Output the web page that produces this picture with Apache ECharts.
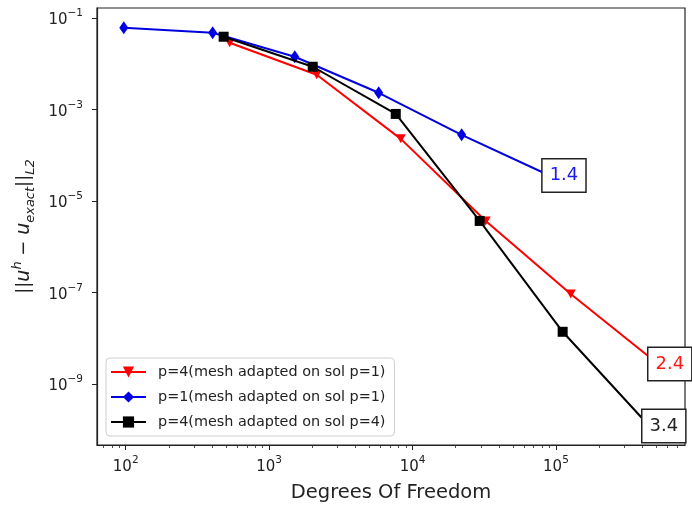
<!DOCTYPE html>
<html>
<head>
<meta charset="utf-8">
<script src="https://cdn.jsdelivr.net/npm/echarts@6/dist/echarts.min.js"></script>
<style>
  html, body { margin: 0; padding: 0; background: #fff; }
  #chart { width: 692px; height: 506px; }
</style>
</head>
<body>
<div id="chart"></div>
<script>
// Convergence of the L2 error against degrees of freedom (log-log)
const seriesNames = [
  'p=4(mesh adapted on sol p=1)',
  'p=1(mesh adapted on sol p=1)',
  'p=4(mesh adapted on sol p=4)'
];
const dofP4onP1 = [531, 2148, 8280, 32400, 126800, 547000];
const errP4onP1 = [0.0288, 0.00574, 2.28e-4, 3.66e-6, 9.27e-8, 2.34e-9];
const dofP1onP1 = [97, 404, 1510, 5810, 22000, 100000];
const errP1onP1 = [0.0614, 0.0477, 0.0142, 0.00232, 2.79e-4, 3.1e-5];
const dofP4onP4 = [482, 2014, 7640, 29400, 111400, 489000];
const errP4onP4 = [0.039, 0.0086, 8.0e-4, 3.66e-6, 1.38e-8, 8.9e-11];
const rateLabels = ['2.4', '1.4', '3.4'];
const xMajorTicks = [100, 1000, 10000, 100000];
const yMajorTicks = [1e-9, 1e-7, 1e-5, 1e-3, 1e-1];
const xRange = [63.1, 794000];
const yRange = [4.62e-11, 0.1656];

const FONT = 'DejaVu Sans';
const INK = '#222';

// minor ticks at 2..9 times each decade inside the x range
const xMinorTicks = [];
for (let e = 1; e <= 5; e++) {
  for (let k = 2; k <= 9; k++) {
    const v = k * Math.pow(10, e);
    if (v > xRange[0] && v < xRange[1]) xMinorTicks.push(v);
  }
}

function powLabel(v) {
  const e = Math.round(Math.log10(v));
  const exp = e < 0 ? '\u2212' + (-e) : String(e);
  return '{b|10}{s|' + exp + '}';
}
const tickRich = {
  b: { fontFamily: FONT, fontSize: 15, color: INK, lineHeight: 20, verticalAlign: 'bottom' },
  s: { fontFamily: FONT, fontSize: 10.5, color: INK, lineHeight: 12, verticalAlign: 'top' }
};

// the final point of each run carries its convergence-rate box instead of a marker
function buildData(xs, ys, rate, color, offset) {
  return xs.map((x, i) => {
    const item = { value: [x, ys[i]] };
    if (i === xs.length - 1) {
      item.symbolSize = 0.01;
      item.label = {
        show: true,
        position: 'inside',
        offset: offset,
        formatter: rate,
        fontFamily: FONT,
        fontSize: 18,
        lineHeight: 19,
        color: color,
        backgroundColor: '#fff',
        borderColor: INK,
        borderWidth: 1.5,
        padding: [7, 7, 6, 7]
      };
    }
    return item;
  });
}

const colors = ['#ff0000', '#0000e0', '#000000'];
const labelColors = ['#ff1a1a', '#1a1aee', '#222'];

const chart = echarts.init(document.getElementById('chart'));
chart.setOption({
  animation: false,
  backgroundColor: '#fff',
  grid: {
    left: 97, right: 7, top: 8, bottom: 61,
    outerBoundsMode: 'none', containLabel: false,
    show: true, borderColor: INK, borderWidth: 1.2, backgroundColor: 'transparent'
  },
  legend: {
    orient: 'vertical',
    left: 106, top: 358,
    padding: [7, 9, 7, 4],
    itemWidth: 35, itemHeight: 14, itemGap: 11,
    backgroundColor: 'rgba(255,255,255,0.85)',
    borderColor: '#cfcfcf', borderWidth: 1, borderRadius: 4,
    textStyle: { fontFamily: FONT, fontSize: 14.4, color: INK, padding: [0, 0, 0, 7] },
    data: seriesNames
  },
  xAxis: [
    {
      type: 'log', logBase: 10, min: xRange[0], max: xRange[1],
      position: 'bottom',
      name: 'Degrees Of Freedom', nameLocation: 'middle', nameGap: 38,
      nameTextStyle: { fontFamily: FONT, fontSize: 19.5, color: INK },
      axisLine: { show: true, lineStyle: { color: INK, width: 1.2 } },
      axisTick: { show: true, length: 5, customValues: xMajorTicks, lineStyle: { color: INK, width: 1 } },
      axisLabel: { customValues: xMajorTicks, margin: 10, formatter: powLabel, rich: tickRich },
      splitLine: { show: false }, minorTick: { show: false }
    },
    {
      type: 'log', logBase: 10, min: xRange[0], max: xRange[1],
      position: 'bottom',
      axisLine: { show: false },
      axisTick: { show: true, length: 3, customValues: xMinorTicks, lineStyle: { color: INK, width: 0.8 } },
      axisLabel: { show: false },
      splitLine: { show: false }
    }
  ],
  yAxis: {
    type: 'log', logBase: 10, min: yRange[0], max: yRange[1],
    name: '{n|||}{i|u}{sup|h}{n| \u2212 }{i|u}{sub|exact}{n|||}{sub|L2}',
    nameLocation: 'middle', nameRotate: 90, nameGap: 60,
    nameTextStyle: {
      rich: {
        n: { fontFamily: FONT, fontSize: 18, color: INK, lineHeight: 26, verticalAlign: 'middle' },
        i: { fontFamily: FONT, fontStyle: 'italic', fontSize: 19, color: INK, lineHeight: 26, verticalAlign: 'middle' },
        sup: { fontFamily: FONT, fontStyle: 'italic', fontSize: 13, color: INK, lineHeight: 14, verticalAlign: 'top' },
        sub: { fontFamily: FONT, fontStyle: 'italic', fontSize: 13, color: INK, lineHeight: 14, verticalAlign: 'bottom' }
      }
    },
    axisLine: { show: true, lineStyle: { color: INK, width: 1.2 } },
    axisTick: { show: true, length: 5, customValues: yMajorTicks, lineStyle: { color: INK, width: 1 } },
    axisLabel: { customValues: yMajorTicks, margin: 14, formatter: powLabel, rich: tickRich },
    splitLine: { show: false }, minorTick: { show: false }
  },
  series: [
    {
      name: seriesNames[0], type: 'line', xAxisIndex: 0,
      data: buildData(dofP4onP1, errP4onP1, rateLabels[0], labelColors[0], [8, -3]),
      color: colors[0], lineStyle: { width: 2, color: colors[0] },
      symbol: 'triangle', symbolRotate: 180, symbolSize: [10, 9],
      itemStyle: { color: colors[0] }, z: 2
    },
    {
      name: seriesNames[1], type: 'line', xAxisIndex: 0,
      data: buildData(dofP1onP1, errP1onP1, rateLabels[1], labelColors[1], [8, -3]),
      color: colors[1], lineStyle: { width: 2, color: colors[1] },
      symbol: 'diamond', symbolSize: [9, 13],
      itemStyle: { color: colors[1] }, z: 3
    },
    {
      name: seriesNames[2], type: 'line', xAxisIndex: 0,
      data: buildData(dofP4onP4, errP4onP4, rateLabels[2], labelColors[2], [9, -6]),
      color: colors[2], lineStyle: { width: 2, color: colors[2] },
      symbol: 'rect', symbolSize: 10,
      itemStyle: { color: colors[2] }, z: 4
    }
  ]
});
</script>
</body>
</html>
